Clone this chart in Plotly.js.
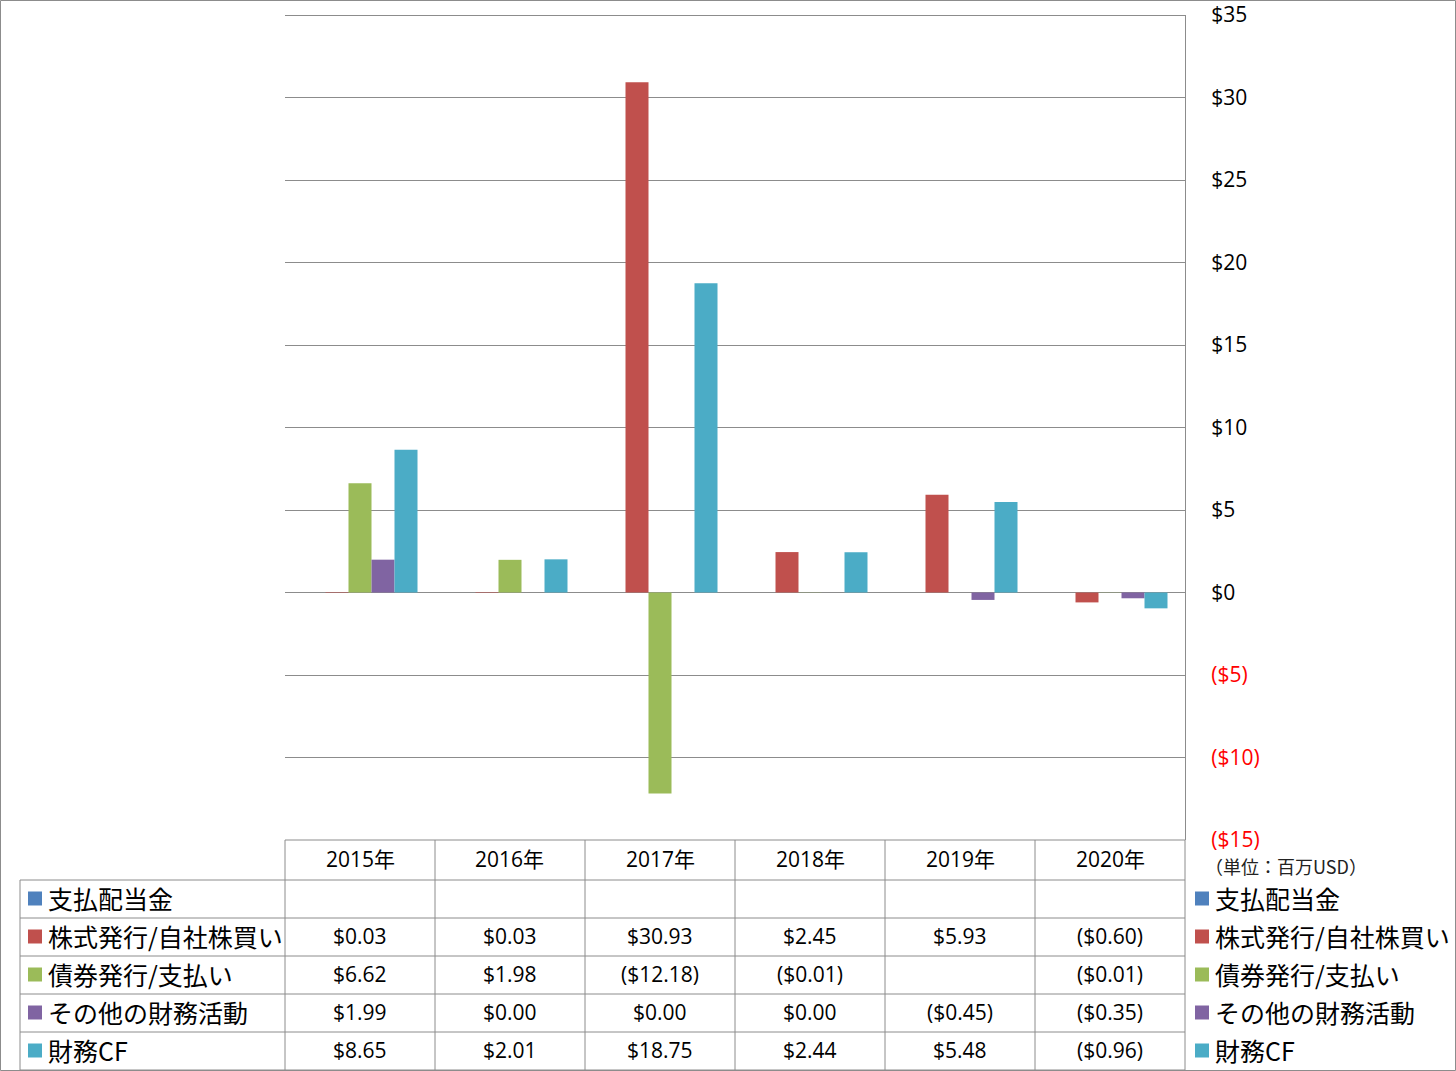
<!DOCTYPE html>
<html><head><meta charset="utf-8">
<script src="https://cdn.plot.ly/plotly-3.0.1.min.js"></script>
<style>html,body{margin:0;padding:0;background:#fff;}#chart{width:1456px;height:1071px;}</style>
</head><body><div id="chart"></div>
<script>
const years = ["2015年","2016年","2017年","2018年","2019年","2020年"];
const seriesNames = ["支払配当金","株式発行/自社株買い","債券発行/支払い","その他の財務活動","財務CF"];
const dividends = [null,null,null,null,null,null];
const equity = [0.03,0.03,30.93,2.45,5.93,-0.60];
const debt = [6.62,1.98,-12.18,-0.01,null,-0.01];
const otherFin = [1.99,0.00,0.00,0.00,-0.45,-0.35];
const financingCF = [8.65,2.01,18.75,2.44,5.48,-0.96];
const colors = ["#4F81BD","#C0504D","#9BBB59","#8064A2","#4BACC6"];
const tickVals = [35,30,25,20,15,10,5,0,-5,-10,-15];
const unitLabel = "（単位：百万USD）";

const seriesData = [dividends,equity,debt,otherFin,financingCF];
const W = 1456, H = 1071;
const px = x => x / W;
const py = y => 1 - y / H;
const fmt = v => v === null ? "" : (v < 0 ? "($" + Math.abs(v).toFixed(2) + ")" : "$" + v.toFixed(2));
const fmtTick = v => v < 0 ? '<span style="color:#FF0000">($' + Math.abs(v) + ')</span>' : "$" + v;

const latin = "Open Sans, Noto Sans CJK JP, sans-serif";
const cjk = "Noto Sans CJK JP, sans-serif";

const traces = seriesData.map((d, i) => ({
  type: "bar", x: years, y: d, name: seriesNames[i],
  marker: {color: colors[i]}, showlegend: false, hoverinfo: "skip"
}));

const plotL = 285, plotR = 1185, plotT = 15, plotB = 840;
const colW = (plotR - plotL) / years.length;
const rowTops = [880, 918, 956, 994, 1032, 1070];
const lineColor = "#8C8C8C";
const shapes = [];
const annotations = [];
const line = (x0, y0, x1, y1) => shapes.push({type: "line", xref: "paper", yref: "paper",
  x0: px(x0), y0: py(y0), x1: px(x1), y1: py(y1), line: {color: lineColor, width: 1}});

// outer frame
line(0.5, 0.5, W - 0.5, 0.5); line(0.5, H - 0.5, W - 0.5, H - 0.5);
line(0.5, 0.5, 0.5, H - 0.5); line(W - 0.5, 0.5, W - 0.5, H - 0.5);
// top gridline of plot area
line(plotL, plotT + 0.5, plotR, plotT + 0.5);
// table
line(plotL, plotB, plotR, plotB);
for (let c = 0; c <= years.length; c++) {
  const x = plotL + c * colW;
  line(x, plotB, x, rowTops[5]);
}
for (let r = 0; r < rowTops.length; r++) line(20, rowTops[r], plotR, rowTops[r]);
line(20, rowTops[0], 20, rowTops[5]);

// year headers
years.forEach((yr, c) => annotations.push({xref: "paper", yref: "paper",
  x: px(plotL + (c + 0.5) * colW), y: py(859), text: yr, showarrow: false,
  xanchor: "center", yanchor: "middle", font: {family: latin, size: 21, color: "#000"}}));

// rows
seriesNames.forEach((nm, s) => {
  const yc = (rowTops[s] + rowTops[s + 1]) / 2 - 1.5;
  shapes.push({type: "rect", xref: "paper", yref: "paper", x0: px(28), x1: px(42),
    y0: py(yc - 6), y1: py(yc + 8), fillcolor: colors[s], line: {width: 0}});
  annotations.push({xref: "paper", yref: "paper", x: px(46), y: py(yc), text: nm,
    showarrow: false, xanchor: "left", yanchor: "middle",
    font: {family: cjk, size: 25, color: "#000"}});
  shapes.push({type: "rect", xref: "paper", yref: "paper", x0: px(1195), x1: px(1209),
    y0: py(yc - 6), y1: py(yc + 8), fillcolor: colors[s], line: {width: 0}});
  annotations.push({xref: "paper", yref: "paper", x: px(1213), y: py(yc), text: nm,
    showarrow: false, xanchor: "left", yanchor: "middle",
    font: {family: cjk, size: 25, color: "#000"}});
  seriesData[s].forEach((v, c) => {
    if (v === null) return;
    annotations.push({xref: "paper", yref: "paper", x: px(plotL + (c + 0.5) * colW), y: py(yc),
      text: fmt(v), showarrow: false, xanchor: "center", yanchor: "middle",
      font: {family: latin, size: 21, color: "#000"}});
  });
});

annotations.push({xref: "paper", yref: "paper", x: px(1203), y: py(866), text: unitLabel,
  showarrow: false, xanchor: "left", yanchor: "middle",
  font: {family: cjk, size: 18, color: "#222"}});

const layout = {
  width: W, height: H, margin: {l: 0, r: 0, t: 0, b: 0, pad: 0},
  paper_bgcolor: "#fff", plot_bgcolor: "#fff",
  barmode: "group", bargap: 35 / 150, bargroupgap: 0,
  xaxis: {domain: [px(plotL), px(plotR)], type: "category", range: [-0.5, 5.5],
    showticklabels: false, showgrid: false, zeroline: false, showline: false, ticks: "", fixedrange: true},
  yaxis: {domain: [py(plotB), py(plotT)], range: [-15, 35], side: "right",
    tickvals: tickVals, ticktext: tickVals.map(fmtTick),
    showgrid: true, gridcolor: lineColor, gridwidth: 1,
    zeroline: true, zerolinecolor: lineColor, zerolinewidth: 1,
    showline: true, linecolor: lineColor, linewidth: 1, ticks: "", ticklabelstandoff: 21,
    tickfont: {family: latin, size: 21, color: "#000"}, fixedrange: true},
  shapes: shapes, annotations: annotations, showlegend: false
};
Plotly.newPlot("chart", traces, layout, {displayModeBar: false, staticPlot: true});
</script></body></html>
